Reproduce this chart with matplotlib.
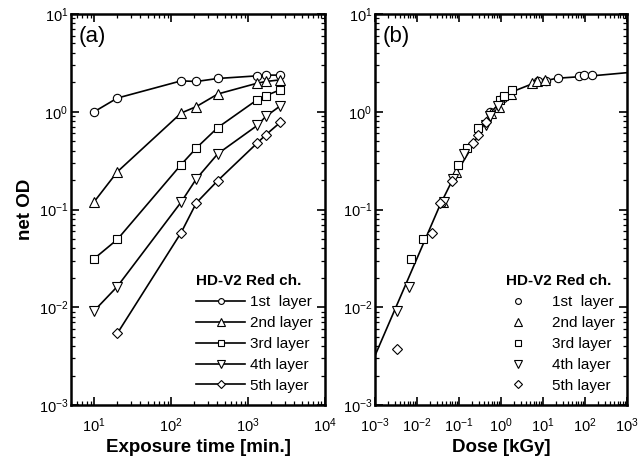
import matplotlib
matplotlib.use("Agg")
import matplotlib.pyplot as plt
from matplotlib.ticker import LogLocator, NullFormatter

plt.rcParams['font.family'] = ['Liberation Sans', 'DejaVu Sans']
plt.rcParams['mathtext.fontset'] = 'custom'
plt.rcParams['mathtext.rm'] = 'Liberation Sans'
plt.rcParams['mathtext.default'] = 'regular'

# exposure times [min.]
t_all = [10, 20, 135, 213, 405, 1320, 1700, 2630]
t_5th = [20, 135, 213, 405, 1320, 1700, 2630]

# net OD per layer (panel a)
od_1st = [1.00, 1.38, 2.07, 2.04, 2.19, 2.33, 2.37, 2.37]
od_2nd = [0.12, 0.243, 0.97, 1.13, 1.52, 1.96, 2.04, 2.12]
od_3rd = [0.0314, 0.0494, 0.288, 0.426, 0.69, 1.33, 1.46, 1.68]
od_4th = [0.0092, 0.0163, 0.119, 0.206, 0.372, 0.725, 0.895, 1.15]
od_5th = [0.0054, 0.058, 0.117, 0.198, 0.48, 0.58, 0.78]

# dose [kGy] per layer (panel b)
dose_1st = [0.55, 1.1, 7.4, 11.7, 22.3, 72.6, 93.5, 145]
dose_2nd = [0.042, 0.084, 0.567, 0.895, 1.70, 5.54, 7.14, 11.0]
dose_3rd = [0.0071, 0.0142, 0.0959, 0.151, 0.288, 0.937, 1.21, 1.87]
dose_4th = [0.0033, 0.0066, 0.0446, 0.0703, 0.134, 0.436, 0.561, 0.868]
dose_5th = [0.0033, 0.0223, 0.0351, 0.0668, 0.218, 0.281, 0.434]
odb_5th = [0.0037, 0.058, 0.117, 0.198, 0.48, 0.58, 0.78]

# fitted calibration curve (panel b)
fit_dose = [0.001, 0.0353, 0.0733, 0.183, 0.547, 1.37, 2.37, 5.9, 21, 132, 1000]
fit_od = [0.0032, 0.111, 0.209, 0.406, 0.964, 1.48, 1.67, 1.95, 2.2, 2.32, 2.51]

labels = ['1st  layer', '2nd layer', '3rd layer', '4th layer', '5th layer']
markers = ['o', '^', 's', 'v', 'D']
msizes = [6, 7.5, 6, 7.5, 5.5]

fig = plt.figure(figsize=(6.39, 4.62), dpi=100)
axa = fig.add_axes([71/639, 57/462, 254/639, 391/462])
axb = fig.add_axes([375/639, 57/462, 252/639, 391/462])

series_a = [(t_all, od_1st), (t_all, od_2nd), (t_all, od_3rd), (t_all, od_4th), (t_5th, od_5th)]
series_b = [(dose_1st, od_1st), (dose_2nd, od_2nd), (dose_3rd, od_3rd), (dose_4th, od_4th), (dose_5th, odb_5th)]

for (x, y), m, ms, lab in zip(series_a, markers, msizes, labels):
    axa.plot(x, y, color='black', lw=1.2, marker=m, ms=ms, mfc='white',
             mec='black', mew=0.8, label=lab)

axb.plot(fit_dose, fit_od, color='black', lw=1.2, zorder=1)
for (x, y), m, ms, lab in zip(series_b, markers, msizes, labels):
    axb.plot(x, y, ls='none', marker=m, ms=ms, mfc='white',
             mec='black', mew=0.8, label=lab, zorder=2)

for ax in (axa, axb):
    ax.set_xscale('log')
    ax.set_yscale('log')
    ax.set_ylim(1e-3, 10)
    ax.tick_params(which='both', direction='in', top=True, right=True, labelsize=10.5)
    ax.tick_params(which='major', length=6, width=1.2)
    ax.tick_params(which='minor', length=3, width=0.9)
    ax.tick_params(axis='x', which='major', pad=8)
    ax.tick_params(axis='y', which='major', pad=2)
    ax.yaxis.set_minor_locator(LogLocator(base=10, subs=range(2, 10), numticks=20))
    ax.yaxis.set_minor_formatter(NullFormatter())
    ax.xaxis.set_minor_locator(LogLocator(base=10, subs=range(2, 10), numticks=20))
    ax.xaxis.set_minor_formatter(NullFormatter())
    for s in ax.spines.values():
        s.set_linewidth(1.8)

axa.set_xlim(5, 1e4)
axb.set_xlim(1e-3, 1e3)
axb.xaxis.set_major_locator(LogLocator(base=10, numticks=10))

axa.set_xlabel('Exposure time [min.]', fontsize=13.5, fontweight='bold', labelpad=3)
axb.set_xlabel('Dose [kGy]', fontsize=13.5, fontweight='bold', labelpad=3)
axa.set_ylabel('net OD', fontsize=13.5, fontweight='bold', labelpad=3)

axa.text(0.03, 0.97, '(a)', transform=axa.transAxes, fontsize=16, va='top', ha='left')
axb.text(0.03, 0.97, '(b)', transform=axb.transAxes, fontsize=16, va='top', ha='left')

la = axa.legend(loc='lower right', bbox_to_anchor=(1.0, 0.0), frameon=False,
                title='HD-V2 Red ch.', fontsize=11, handlelength=3.2,
                handletextpad=0.3, labelspacing=0.45, markerscale=0.7,
                alignment='left', borderaxespad=0.4)
la.get_title().set_fontweight('bold')
la.get_title().set_fontsize(11)

lb = axb.legend(loc='lower right', bbox_to_anchor=(1.0, 0.0), frameon=False,
                title='HD-V2 Red ch.', fontsize=11, handlelength=1.5,
                handletextpad=1.5, labelspacing=0.45, markerscale=0.7,
                alignment='left', borderaxespad=0.4)
lb.get_title().set_fontweight('bold')
lb.get_title().set_fontsize(11)

fig.savefig('out.png', dpi=100)
